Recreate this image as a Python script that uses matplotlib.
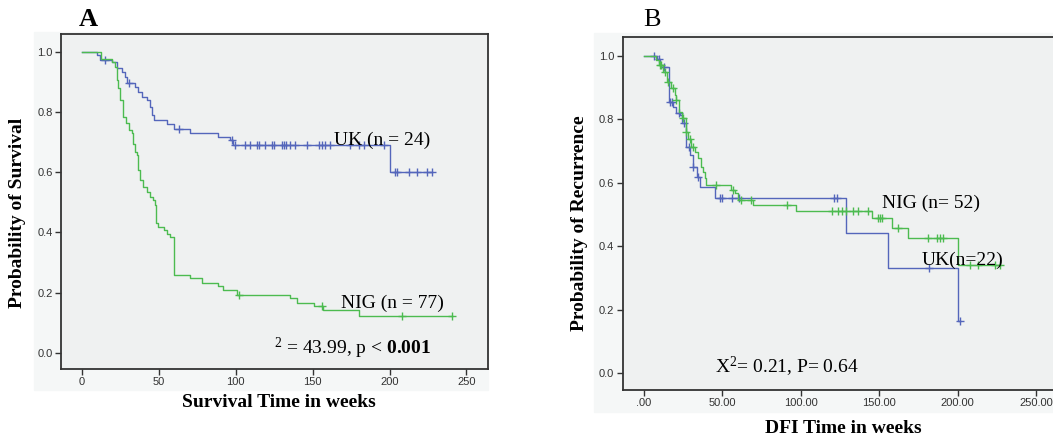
import numpy as np
import matplotlib
matplotlib.use("Agg")
import matplotlib.pyplot as plt
from matplotlib.patches import Rectangle

plt.rcParams['mathtext.fontset'] = 'custom'
plt.rcParams['mathtext.rm'] = 'Liberation Serif'
plt.rcParams['mathtext.bf'] = 'Liberation Serif:bold'
plt.rcParams['mathtext.it'] = 'Liberation Serif:italic'

# ---- panel A: overall survival (weeks) ----
uk_a_t = [0, 9.5, 11.7, 19.3, 22.6, 25.8, 28.0, 29.1, 34.5, 36.7, 38.8, 42.1, 44.3, 45.4,
          46.9, 55.1, 59.5, 70.3, 88.1, 96.4, 97.9, 200.5, 227.6]
uk_a_s = [1.0, 0.989, 0.974, 0.967, 0.945, 0.934, 0.917, 0.895, 0.884, 0.867, 0.850, 0.839,
          0.817, 0.790, 0.773, 0.760, 0.745, 0.731, 0.718, 0.707, 0.690, 0.601, 0.601]
uk_a_cens = [15.0, 30.2, 63.2, 97.4, 99.6, 106.1, 109.4, 113.7, 114.8, 119.1, 123.5, 124.6,
             130.0, 131.1, 132.8, 135.4, 138.7, 146.2, 153.9, 156.0, 158.2, 161.5, 174.5,
             179.9, 183.2, 196.2, 203.8, 204.9, 212.5, 217.9, 224.4, 227.6]

nig_a_t = [0, 12.4, 19.3, 21.5, 23.0, 23.6, 24.7, 26.9, 28.6, 30.2, 32.3, 33.4, 34.5, 35.6,
           36.2, 37.8, 39.9, 42.1, 44.3, 46.4, 47.5, 48.2, 49.7, 53.0, 55.1, 57.3, 59.9,
           70.3, 77.9, 88.1, 91.6, 100.7, 135.0, 139.8, 150.6, 156.7, 179.9, 240.7]
nig_a_s = [1.0, 0.975, 0.967, 0.950, 0.906, 0.878, 0.839, 0.784, 0.762, 0.740, 0.729, 0.695,
           0.668, 0.657, 0.607, 0.574, 0.551, 0.535, 0.518, 0.507, 0.491, 0.430, 0.419,
           0.408, 0.396, 0.383, 0.258, 0.247, 0.233, 0.221, 0.210, 0.192, 0.181, 0.166,
           0.155, 0.142, 0.123, 0.123]
nig_a_cens = [101.8, 156.0, 208.1, 240.7]

# ---- panel B: disease-free interval (weeks) ----
uk_b_t = [0, 8.3, 10.0, 11.1, 15.7, 18.5, 20.6, 22.8, 24.5, 27.0, 29.1, 31.3, 33.8, 35.5,
          45.1, 129.1, 155.7, 200.4, 201.5]
uk_b_s = [1.0, 0.990, 0.975, 0.965, 0.856, 0.840, 0.819, 0.814, 0.788, 0.714, 0.688, 0.651,
          0.620, 0.588, 0.551, 0.443, 0.333, 0.166, 0.166]
uk_b_cens = [6.2, 9.6, 12.6, 16.4, 18.1, 22.3, 25.3, 28.7, 31.3, 34.5, 48.3, 49.8, 56.2,
             60.4, 121.1, 122.8, 181.9, 201.5]

nig_b_t = [0, 7.9, 9.6, 12.1, 14.7, 17.4, 19.6, 20.6, 22.3, 24.5, 26.6, 28.1, 30.2, 32.3,
           34.5, 36.6, 37.7, 38.7, 39.8, 55.7, 57.9, 60.0, 69.6, 97.2, 145.1, 157.9, 168.5,
           200.4, 227.0]
nig_b_s = [1.0, 0.987, 0.972, 0.951, 0.919, 0.898, 0.877, 0.861, 0.825, 0.804, 0.762, 0.740,
           0.714, 0.699, 0.678, 0.651, 0.636, 0.615, 0.594, 0.578, 0.567, 0.546, 0.532,
           0.512, 0.488, 0.457, 0.425, 0.341, 0.341]
nig_b_cens = [10.0, 11.1, 13.2, 15.3, 18.5, 20.6, 24.9, 27.0, 29.1, 31.3, 46.2, 56.8, 62.1,
              68.5, 90.9, 119.6, 123.8, 126.0, 129.1, 133.4, 136.6, 143.0, 149.4, 150.4,
              151.5, 162.1, 181.3, 186.6, 188.7, 190.9, 207.9, 213.2, 223.8, 227.0]

BLUE = '#5466bb'
GREEN = '#4cbb50'
AX_BG = '#eff1f1'
OUT_BG = '#f5f7f7'
SERIF = ['Liberation Serif', 'DejaVu Serif']
SANS = ['Liberation Sans', 'DejaVu Sans']


def step_val(t, s, x):
    i = np.searchsorted(np.asarray(t), x, side='right') - 1
    return np.asarray(s)[max(i, 0)]


def km(ax, t, s, cens, color):
    ax.step(t, s, where='post', color=color, lw=1.0)
    cy = [step_val(t, s, c) for c in cens]
    ax.plot(cens, cy, '+', color=color, ms=5.5, mew=1.0, ls='none')


def style(ax, xticks, xlabels):
    ax.set_facecolor(AX_BG)
    for sp in ax.spines.values():
        sp.set_color('#333333')
        sp.set_linewidth(1.3)
    ax.set_yticks([0.0, 0.2, 0.4, 0.6, 0.8, 1.0])
    ax.set_yticklabels(['0.0', '0.2', '0.4', '0.6', '0.8', '1.0'])
    ax.set_xticks(xticks)
    ax.set_xticklabels(xlabels)
    ax.tick_params(direction='out', length=4, width=1.0, color='#333333',
                   labelsize=8, labelcolor='#333333', pad=2)
    for lab in ax.get_xticklabels() + ax.get_yticklabels():
        lab.set_family(SANS)


W, H = 1053, 440
fig = plt.figure(figsize=(W / 100, H / 100), dpi=100)
fig.patch.set_facecolor('white')

# lighter outer panels behind each chart
fig.add_artist(Rectangle((34 / W, 1 - 390 / H), 454 / W, 358 / H,
                         transform=fig.transFigure, color=OUT_BG, zorder=0))
fig.add_artist(Rectangle((594 / W, 1 - 412 / H), 459 / W, 379 / H,
                         transform=fig.transFigure, color=OUT_BG, zorder=0))

# ---- A ----
axA = fig.add_axes([61 / W, 1 - 369 / H, 427 / W, 335 / H])
km(axA, uk_a_t, uk_a_s, uk_a_cens, BLUE)
km(axA, nig_a_t, nig_a_s, nig_a_cens, GREEN)
axA.set_xlim(-13.7, 264)
axA.set_ylim(-0.054, 1.059)
style(axA, [0, 50, 100, 150, 200, 250], ['0', '50', '100', '150', '200', '250'])
axA.text(163.6, 0.69, 'UK (n = 24)', family=SERIF, fontsize=14, va='baseline')
axA.text(168.4, 0.148, 'NIG (n = 77)', family=SERIF, fontsize=14, va='baseline')
axA.text(124.6, -0.004, r'$^{2}$ = 43.99, p < $\mathbf{0.001}$', family=SERIF,
         fontsize=14, va='baseline')
fig.text(88 / W, 1 - 20 / H, 'A', family=SERIF, fontsize=19, fontweight='bold',
         ha='center', va='center')
fig.text(18 / W, 1 - 213 / H, 'Probability of Survival', family=SERIF, fontsize=14,
         fontweight='bold', rotation=90, ha='center', va='center')
fig.text(279 / W, 1 - 402 / H, 'Survival Time in weeks', family=SERIF, fontsize=14,
         fontweight='bold', ha='center', va='center')

# ---- B ----
axB = fig.add_axes([622.7 / W, 1 - 390 / H, 440 / W, 352.7 / H])
km(axB, uk_b_t, uk_b_s, uk_b_cens, BLUE)
km(axB, nig_b_t, nig_b_s, nig_b_cens, GREEN)
axB.set_xlim(-13.6, 267)
axB.set_ylim(-0.0525, 1.059)
style(axB, [0, 50, 100, 150, 200, 250], ['.00', '50.00', '100.00', '150.00', '200.00', '250.00'])
axB.text(152, 0.521, 'NIG (n= 52)', family=SERIF, fontsize=14, va='baseline')
axB.text(177, 0.341, 'UK(n=22)', family=SERIF, fontsize=14, va='baseline')
axB.text(45.1, 0.0, r'X$^{2}$= 0.21, P= 0.64', family=SERIF, fontsize=14, va='baseline')
fig.text(652 / W, 1 - 20 / H, 'B', family=SERIF, fontsize=19, ha='center', va='center')
fig.text(580 / W, 1 - 223 / H, 'Probability of Recurrence', family=SERIF, fontsize=14,
         fontweight='bold', rotation=90, ha='center', va='center')
fig.text(843 / W, 1 - 428 / H, 'DFI Time in weeks', family=SERIF, fontsize=14,
         fontweight='bold', ha='center', va='center')

fig.savefig('out.png', dpi=100, facecolor=fig.get_facecolor())
